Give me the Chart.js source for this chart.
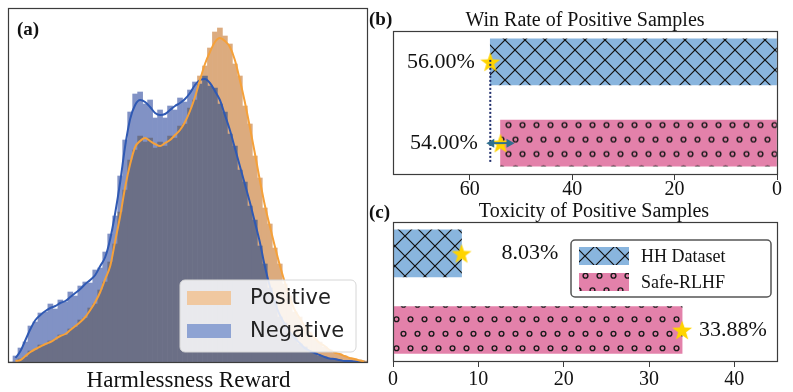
<!DOCTYPE html>
<html>
<head>
<meta charset="utf-8">
<script src="https://cdn.jsdelivr.net/npm/chart.js@4.4.0/dist/chart.umd.min.js"></script>
<style>
  html, body { margin: 0; padding: 0; background: #fff; }
  #wrap { position: relative; width: 793px; height: 392px; overflow: hidden; }
  canvas { position: absolute; }
  #histChart { left: 0; top: 0; }
  #winChart { left: 365px; top: 0; }
  #toxChart { left: 365px; top: 196px; }
</style>
</head>
<body>
<div id="wrap">
  <canvas id="histChart" width="372" height="392"></canvas>
  <canvas id="winChart" width="428" height="204"></canvas>
  <canvas id="toxChart" width="428" height="196"></canvas>
</div>
<script>
// ---- data ----
// (a) harmlessness reward histogram, 72 bins, counts + kde
const positiveHist = [0, 0, 3, 5, 11, 12, 17, 17, 21, 22,
  27, 27, 33, 35, 42, 44, 54, 58, 72, 80,
  100, 118, 150, 172, 202, 212, 226, 220, 224, 214,
  220, 216, 226, 224, 236, 238, 254, 262, 286, 296,
  314, 330, 334, 326, 318, 298, 286, 256, 238, 206,
  184, 154, 138, 114, 98, 78, 66, 50, 45, 35,
  30, 23, 20, 15, 12, 9, 8, 6, 4, 3,
  2, 1];
const negativeHist = [0, 6, 14, 20, 36, 40, 49, 50, 58, 53,
  62, 60, 70, 66, 76, 80, 79, 92, 94, 110,
  128, 146, 186, 222, 250, 268, 270, 258, 262, 244,
  252, 244, 256, 252, 264, 260, 272, 280, 278, 286,
  276, 274, 258, 250, 228, 216, 192, 180, 156, 142,
  116, 98, 74, 62, 45, 39, 28, 25, 18, 15,
  10, 9, 6, 5, 3, 3, 2, 1, 1, 0,
  0, 0];
const positiveKde = [null, 1, 2, 6, 10, 13, 15.5, 18, 20, 23,
  26, 28, 32, 36, 40, 45, 52, 60, 70, 83,
  96, 121, 146, 175, 198, 215, 221, 224, 221, 218,
  216, 219, 222, 227, 232, 240, 251, 265, 282, 298,
  310, 320, 324, 321, 315, 302, 282, 260, 235, 209,
  182, 157, 136, 116, 97, 80, 65, 52, 44, 36,
  29, 24, 19, 16, 12, 9.5, 8, 6, 4, 3,
  1.5, 0.5];
const negativeKde = [null, 4, 11, 22, 33, 42, 47, 51, 54, 56,
  59, 61, 65, 69, 73, 78, 82, 87, 96, 105,
  123, 149, 180, 216, 243, 257, 262, 260, 255, 249,
  247, 248, 252, 256, 259, 263, 269, 277, 282, 283,
  279, 271, 262, 247, 232, 214, 196, 178, 160, 140,
  120, 96, 76, 60, 47, 38, 30, 24, 19, 14,
  11, 9, 7, 5, 3.5, 3, 2, 1, 1, 0.5,
  0.3, 0.2];

// (b) / (c)
const methods = ['HH Dataset', 'Safe-RLHF'];
const winRates = [56.00, 54.00];
const toxicity = [8.03, 33.88];
const winTicks = [0, 20, 40, 60];
const toxTicks = [0, 10, 20, 30, 40];

Chart.defaults.font.family = '"Liberation Serif", "Times New Roman", serif';
Chart.defaults.color = '#111';

// ---- hatch patterns / star marker ----
function crossPattern(ctx) {
  const t = document.createElement('canvas');
  t.width = 20; t.height = 20;
  const g = t.getContext('2d');
  g.fillStyle = '#89b5de';
  g.fillRect(0, 0, 20, 20);
  g.strokeStyle = '#111';
  g.lineWidth = 1.2;
  g.beginPath();
  for (const k of [-20, 0, 20]) {
    g.moveTo(k, 0); g.lineTo(k + 20, 20);
    g.moveTo(k + 20, 0); g.lineTo(k, 20);
  }
  g.stroke();
  return ctx.createPattern(t, 'repeat');
}

function dotPattern(ctx, dy) {
  const t = document.createElement('canvas');
  t.width = 14; t.height = 29;
  const g = t.getContext('2d');
  g.fillStyle = '#e381aa';
  g.fillRect(0, 0, 14, 29);
  g.strokeStyle = '#1a1a1a';
  g.lineWidth = 1.4;
  [[3.5, 7.25], [10.5, 21.75]].forEach(([cx, cy]) => {
    g.beginPath(); g.arc(cx, cy, 2.4, 0, Math.PI * 2); g.stroke();
  });
  const p = ctx.createPattern(t, 'repeat');
  p.setTransform(new DOMMatrix().translate(0, dy));
  return p;
}

const starImg = (() => {
  const c = document.createElement('canvas');
  c.width = 24; c.height = 24;
  const g = c.getContext('2d');
  g.fillStyle = '#ffd400';
  g.beginPath();
  for (let k = 0; k < 10; k++) {
    const r = k % 2 ? 4.2 : 10.5;
    const a = -Math.PI / 2 + k * Math.PI / 5;
    const px = 12 + r * Math.cos(a), py = 13 + r * Math.sin(a);
    if (k) g.lineTo(px, py); else g.moveTo(px, py);
  }
  g.closePath();
  g.fill();
  return c;
})();

function drawFrame(chart) {
  const { ctx, chartArea: a } = chart;
  ctx.save();
  ctx.strokeStyle = '#3c3c3c';
  ctx.lineWidth = 1.2;
  ctx.strokeRect(Math.round(a.left) + 0.5, Math.round(a.top) + 0.5,
    Math.round(a.right - a.left), Math.round(a.bottom - a.top));
  ctx.restore();
}

// ---- (a) histogram ----
const bins = positiveHist.map((_, i) => i);
const overlap = positiveHist.map((p, i) => Math.min(p, negativeHist[i]));
const posTop = positiveHist.map((p, i) => p > negativeHist[i] ? [negativeHist[i], p] : null);
const negTop = negativeHist.map((n, i) => n > positiveHist[i] ? [positiveHist[i], n] : null);

const histDecor = {
  id: 'histDecor',
  afterDraw(chart) {
    const { ctx, chartArea: a } = chart;
    drawFrame(chart);
    ctx.save();
    ctx.fillStyle = '#111';
    ctx.textBaseline = 'middle';
    ctx.font = 'bold 19px "Liberation Serif"';
    ctx.fillText('(a)', 17, 30);
    ctx.font = '23px "Liberation Serif"';
    ctx.textAlign = 'center';
    ctx.fillText('Harmlessness Reward', (a.left + a.right) / 2 + 1, a.bottom + 19);

    // legend box, lower right
    const bx = a.right - 187, by = a.bottom - 82;
    ctx.beginPath();
    ctx.roundRect(bx, by, 176, 72, 5);
    ctx.fillStyle = 'rgba(255,255,255,0.85)';
    ctx.fill();
    ctx.strokeStyle = '#d6d6d6';
    ctx.lineWidth = 1;
    ctx.stroke();
    const items = [
      { text: chart.data.datasets[3].label, color: '#f0c8a0' },
      { text: chart.data.datasets[4].label, color: '#8ea3d3' }
    ];
    ctx.textAlign = 'left';
    ctx.font = '21px "DejaVu Sans"';
    items.forEach((it, i) => {
      const yy = by + 11 + i * 33;
      ctx.fillStyle = it.color;
      ctx.fillRect(bx + 7, yy, 44, 14);
      ctx.fillStyle = '#222';
      ctx.fillText(it.text, bx + 70, yy + 8);
    });
    ctx.restore();
  }
};

const histBar = { grouped: false, barPercentage: 1, categoryPercentage: 1, borderWidth: 0 };

new Chart(document.getElementById('histChart'), {
  type: 'bar',
  data: {
    labels: bins,
    datasets: [
      { type: 'line', label: 'Positive KDE', data: positiveKde, borderColor: '#f5a13a', borderWidth: 2,
        pointRadius: 0, cubicInterpolationMode: 'monotone', order: -2 },
      { type: 'line', label: 'Negative KDE', data: negativeKde, borderColor: '#2f59b3', borderWidth: 2,
        pointRadius: 0, cubicInterpolationMode: 'monotone', order: -1 },
      { label: 'Both', data: overlap, backgroundColor: '#6b6f86', ...histBar },
      { label: 'Positive', data: posTop, backgroundColor: '#dcab7e', ...histBar },
      { label: 'Negative', data: negTop, backgroundColor: '#8192c5', ...histBar }
    ]
  },
  options: {
    responsive: false,
    animation: false,
    events: [],
    layout: { padding: { left: 8, top: 8, right: 5, bottom: 30 } },
    scales: {
      x: { display: false },
      y: { display: false, min: 0, max: 354 }
    },
    plugins: { legend: { display: false }, tooltip: { enabled: false } }
  },
  plugins: [histDecor]
});

// ---- (b) win rate ----
const winCanvas = document.getElementById('winChart');
const winCtx = winCanvas.getContext('2d');
const winPatterns = [crossPattern(winCtx), dotPattern(winCtx, 1.75)];

const winDecor = {
  id: 'winDecor',
  afterDatasetsDraw(chart) {
    const { ctx, scales: { x, y } } = chart;
    ctx.save();
    const xr = x.getPixelForValue(winRates[0]);
    ctx.strokeStyle = '#1f2d6b';
    ctx.lineWidth = 2;
    ctx.setLineDash([2, 2]);
    ctx.beginPath();
    ctx.moveTo(xr, y.getPixelForValue(0) - 2);
    ctx.lineTo(xr, y.getPixelForValue(1) + 20);
    ctx.stroke();
    ctx.setLineDash([]);

    // double arrow between the two win rates
    const ya = y.getPixelForValue(1);
    const x0 = xr - 4, x1 = x.getPixelForValue(winRates[1]) + 14;
    ctx.strokeStyle = ctx.fillStyle = '#2f6f8f';
    ctx.beginPath(); ctx.moveTo(x0 + 5, ya); ctx.lineTo(x1 - 5, ya); ctx.stroke();
    ctx.beginPath(); ctx.moveTo(x0, ya); ctx.lineTo(x0 + 8, ya - 4.5); ctx.lineTo(x0 + 8, ya + 4.5); ctx.closePath(); ctx.fill();
    ctx.beginPath(); ctx.moveTo(x1, ya); ctx.lineTo(x1 - 8, ya - 4.5); ctx.lineTo(x1 - 8, ya + 4.5); ctx.closePath(); ctx.fill();

    ctx.fillStyle = '#111';
    ctx.font = '22px "Liberation Serif"';
    ctx.textAlign = 'right';
    ctx.textBaseline = 'middle';
    winRates.forEach((v, i) => {
      ctx.fillText(v.toFixed(2) + '%', x.getPixelForValue(59) + i * 3, y.getPixelForValue(i));
    });
    ctx.restore();
  },
  afterDraw(chart) {
    const { ctx, chartArea: a } = chart;
    drawFrame(chart);
    ctx.save();
    ctx.fillStyle = '#111';
    ctx.textBaseline = 'middle';
    ctx.font = 'bold 19px "Liberation Serif"';
    ctx.fillText('(b)', 4, 20);
    ctx.font = '20px "Liberation Serif"';
    ctx.textAlign = 'center';
    ctx.fillText('Win Rate of Positive Samples', (a.left + a.right) / 2, 21);
    ctx.restore();
  }
};

new Chart(winCanvas, {
  type: 'bar',
  data: {
    datasets: [
      { type: 'scatter', label: 'marker', data: winRates.map((v, i) => ({ x: v, y: i })),
        pointStyle: starImg, showLine: false, order: -1 },
      ...methods.map((m, i) => ({
        label: m,
        data: [{ x: winRates[i], y: i }],
        backgroundColor: winPatterns[i],
        grouped: false,
        barThickness: 46,
        borderWidth: 0
      }))
    ]
  },
  options: {
    indexAxis: 'y',
    responsive: false,
    animation: false,
    events: [],
    layout: { padding: { left: 28, top: 31, right: 16, bottom: 0 } },
    scales: {
      x: {
        type: 'linear', min: 0, max: 75, reverse: true,
        afterBuildTicks: s => { s.ticks = winTicks.map(v => ({ value: v })); },
        afterFit: s => { s.height = 30; },
        grid: { display: true, drawOnChartArea: false, drawTicks: true, tickLength: 6, color: '#3c3c3c' },
        border: { display: false },
        ticks: { color: '#111', font: { size: 20, lineHeight: 1 }, padding: 0, maxRotation: 0 }
      },
      y: { type: 'linear', display: false, offset: false, min: -0.38, max: 1.38, reverse: true }
    },
    plugins: { legend: { display: false }, tooltip: { enabled: false } }
  },
  plugins: [winDecor]
});

// ---- (c) toxicity ----
const toxCanvas = document.getElementById('toxChart');
const toxCtx = toxCanvas.getContext('2d');
const toxPatterns = [crossPattern(toxCtx), dotPattern(toxCtx, 0)];

const toxDecor = {
  id: 'toxDecor',
  afterDatasetsDraw(chart) {
    const { ctx, scales: { x, y } } = chart;
    ctx.save();
    ctx.fillStyle = '#111';
    ctx.font = '22px "Liberation Serif"';
    ctx.textBaseline = 'middle';
    const gap = [40, 17];
    toxicity.forEach((v, i) => {
      ctx.fillText(v.toFixed(2) + '%', x.getPixelForValue(v) + gap[i], y.getPixelForValue(i));
    });
    ctx.restore();
  },
  afterDraw(chart) {
    const { ctx, chartArea: a } = chart;
    drawFrame(chart);
    ctx.save();
    ctx.fillStyle = '#111';
    ctx.textBaseline = 'middle';
    ctx.font = 'bold 19px "Liberation Serif"';
    ctx.fillText('(c)', 4, 17);
    ctx.font = '20px "Liberation Serif"';
    ctx.textAlign = 'center';
    ctx.fillText('Toxicity of Positive Samples', (a.left + a.right) / 2 + 9, 16);

    // legend
    const bw = 200, bh = 57;
    const bx = a.right - 6 - bw, by = a.top + 18;
    ctx.beginPath();
    ctx.roundRect(bx, by, bw, bh, 4);
    ctx.fillStyle = '#fff';
    ctx.fill();
    ctx.strokeStyle = '#555';
    ctx.lineWidth = 1.5;
    ctx.stroke();
    ctx.textAlign = 'left';
    ctx.font = '18px "Liberation Serif"';
    methods.forEach((m, i) => {
      const yy = by + 7 + i * 26;
      ctx.fillStyle = toxPatterns[i];
      ctx.fillRect(bx + 8, yy, 50, 18);
      ctx.fillStyle = '#111';
      ctx.fillText(m, bx + 70, yy + 10);
    });
    ctx.restore();
  }
};

new Chart(toxCanvas, {
  type: 'bar',
  data: {
    datasets: [
      { type: 'scatter', label: 'marker', data: toxicity.map((v, i) => ({ x: v, y: i })),
        pointStyle: starImg, showLine: false, order: -1 },
      ...methods.map((m, i) => ({
        label: m,
        data: [{ x: toxicity[i], y: i }],
        backgroundColor: toxPatterns[i],
        grouped: false,
        barThickness: 47,
        borderWidth: 0
      }))
    ]
  },
  options: {
    indexAxis: 'y',
    responsive: false,
    animation: false,
    events: [],
    layout: { padding: { left: 28, top: 26, right: 16, bottom: 0 } },
    scales: {
      x: {
        type: 'linear', min: 0, max: 45,
        afterBuildTicks: s => { s.ticks = toxTicks.map(v => ({ value: v })); },
        afterFit: s => { s.height = 31; },
        grid: { display: true, drawOnChartArea: false, drawTicks: true, tickLength: 6, color: '#3c3c3c' },
        border: { display: false },
        ticks: { color: '#111', font: { size: 20, lineHeight: 1 }, padding: 3, maxRotation: 0 }
      },
      y: { type: 'linear', display: false, offset: false, min: -0.41, max: 1.405, reverse: true }
    },
    plugins: { legend: { display: false }, tooltip: { enabled: false } }
  },
  plugins: [toxDecor]
});
</script>
</body>
</html>
